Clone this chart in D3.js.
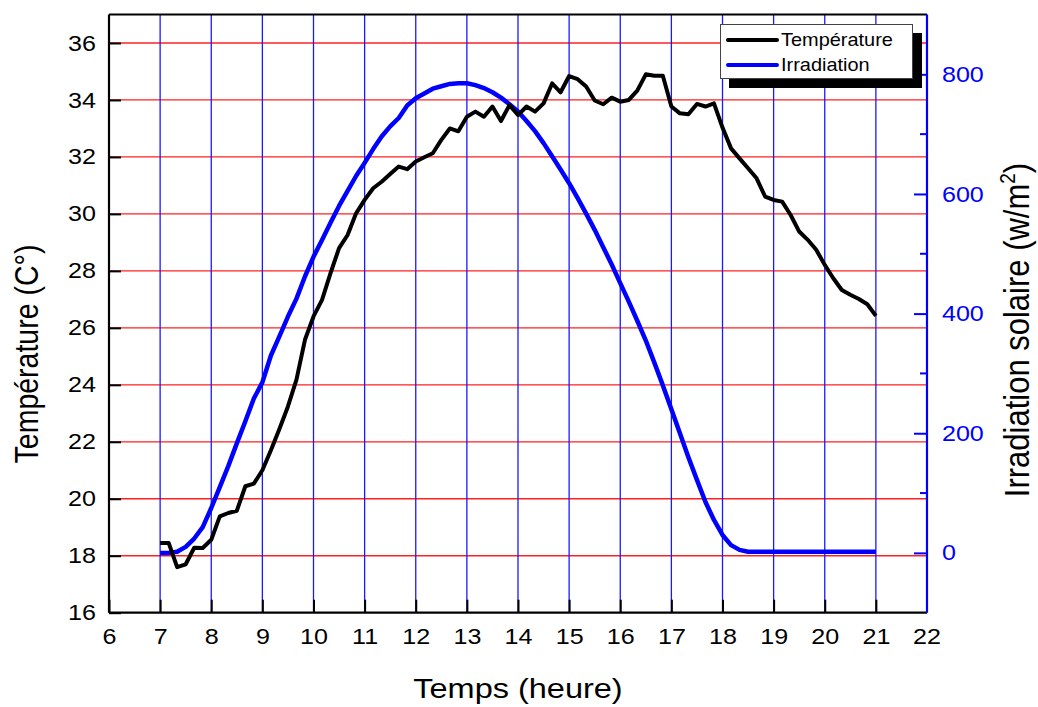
<!DOCTYPE html>
<html>
<head>
<meta charset="utf-8">
<script src="https://cdn.jsdelivr.net/npm/d3@7"></script>
<style>
  html, body { margin: 0; padding: 0; background: #fff; }
  svg { display: block; font-family: "Liberation Sans", Arial, sans-serif; }
</style>
</head>
<body>
<svg id="chart" width="1038" height="707"></svg>
<script>
// Measurement times (hours, 10-minute steps from 7:00 to 21:00)
const hours = [
  7.000, 7.167, 7.333, 7.500, 7.667, 7.833, 8.000, 8.167, 8.333, 8.500, 8.667, 8.833,
  9.000, 9.167, 9.333, 9.500, 9.667, 9.833, 10.000, 10.167, 10.333, 10.500, 10.667, 10.833,
  11.000, 11.167, 11.333, 11.500, 11.667, 11.833, 12.000, 12.167, 12.333, 12.500, 12.667, 12.833,
  13.000, 13.167, 13.333, 13.500, 13.667, 13.833, 14.000, 14.167, 14.333, 14.500, 14.667, 14.833,
  15.000, 15.167, 15.333, 15.500, 15.667, 15.833, 16.000, 16.167, 16.333, 16.500, 16.667, 16.833,
  17.000, 17.167, 17.333, 17.500, 17.667, 17.833, 18.000, 18.167, 18.333, 18.500, 18.667, 18.833,
  19.000, 19.167, 19.333, 19.500, 19.667, 19.833, 20.000, 20.167, 20.333, 20.500, 20.667, 20.833,
  21.000
];

// Air temperature (°C)
const temperature = [
  18.45, 18.45, 17.60, 17.70, 18.28, 18.27, 18.56, 19.38, 19.50, 19.58, 20.44, 20.53,
  21.00, 21.70, 22.45, 23.24, 24.18, 25.58, 26.40, 26.98, 27.92, 28.80, 29.26, 30.02,
  30.49, 30.90, 31.13, 31.40, 31.66, 31.57, 31.84, 31.99, 32.13, 32.60, 33.00, 32.90,
  33.41, 33.59, 33.41, 33.77, 33.26, 33.82, 33.47, 33.77, 33.59, 33.88, 34.58, 34.27,
  34.84, 34.73, 34.47, 33.98, 33.85, 34.08, 33.94, 34.00, 34.33, 34.90, 34.85, 34.85,
  33.77, 33.53, 33.50, 33.86, 33.77, 33.88, 33.03, 32.30, 31.95, 31.60, 31.25, 30.61,
  30.49, 30.43, 29.96, 29.38, 29.09, 28.74, 28.21, 27.74, 27.33, 27.16, 27.01, 26.83,
  26.42
];

// Solar irradiation (W/m²)
const irradiation = [
  0, 0, 2, 10, 24, 43, 75, 110, 145, 183, 220, 258,
  285, 330, 362, 395, 425, 462, 495, 523, 552, 580, 605, 630,
  652, 675, 696, 713, 727, 748, 760, 768, 776, 780, 784, 785,
  785, 782, 777, 770, 761, 750, 738, 722, 705, 685, 663, 641,
  618, 593, 567, 540, 511, 482, 451, 420, 388, 355, 318, 280,
  240, 200, 160, 122, 85, 55, 30, 13, 5, 2, 2, 2,
  2, 2, 2, 2, 2, 2, 2, 2, 2, 2, 2, 2,
  2
];

const hourTicks = [6, 7, 8, 9, 10, 11, 12, 13, 14, 15, 16, 17, 18, 19, 20, 21, 22];
const tempTicks = [16, 18, 20, 22, 24, 26, 28, 30, 32, 34, 36];
const irrTicks = [0, 200, 400, 600, 800];
const irrMinorTicks = [100, 300, 500, 700];

const seriesNames = ["Température", "Irradiation"];

const svg = d3.select("#chart");
const plotLeft = 109, plotRight = 927, plotTop = 14.5, plotBottom = 612.7;
const wide = 1.14;          // horizontal stretch of the lettering
const fontSize = 22;

const x = d3.scaleLinear().domain([6, 22]).range([plotLeft, plotRight]);
const yT = d3.scaleLinear().domain([16, 37]).range([plotBottom, plotTop]);
const yI = d3.scaleLinear().domain([-100, 900]).range([plotBottom, plotTop]);

// Grid: red horizontal lines at each temperature tick, blue vertical at each hour
const grid = svg.append("g");
grid.selectAll("line.h").data(tempTicks.filter(v => v > 16)).join("line")
  .attr("class", "h")
  .attr("x1", plotLeft).attr("x2", plotRight)
  .attr("y1", d => yT(d)).attr("y2", d => yT(d))
  .attr("stroke", "#ff2020").attr("stroke-width", 1.3);
grid.selectAll("line.v").data(hourTicks.filter(v => v > 6 && v < 22)).join("line")
  .attr("class", "v")
  .attr("y1", plotTop).attr("y2", plotBottom)
  .attr("x1", d => x(d)).attr("x2", d => x(d))
  .attr("stroke", "#1a1aff").attr("stroke-width", 1.3);

// Data lines
const lineT = d3.line().x((d, i) => x(hours[i])).y(d => yT(d));
const lineI = d3.line().x((d, i) => x(hours[i])).y(d => yI(d));

svg.append("path").datum(irradiation)
  .attr("d", lineI).attr("fill", "none")
  .attr("stroke", "#0000ff").attr("stroke-width", 4.5)
  .attr("stroke-linejoin", "round");
svg.append("path").datum(temperature)
  .attr("d", lineT).attr("fill", "none")
  .attr("stroke", "#000").attr("stroke-width", 4)
  .attr("stroke-linejoin", "round");

// Axes
const axisLeftG = svg.append("g").attr("transform", `translate(${plotLeft},0)`)
  .call(d3.axisRight(yT).tickValues(tempTicks).tickSize(12).tickFormat(d3.format("d")));
axisLeftG.select(".domain").remove();
axisLeftG.selectAll(".tick line").attr("stroke", "#000").attr("stroke-width", 2);
axisLeftG.selectAll(".tick text").attr("x", -13 / wide).attr("text-anchor", "end")
  .attr("transform", `scale(${wide},1)`)
  .attr("font-size", fontSize).attr("fill", "#000").attr("font-family", "Liberation Sans, Arial, sans-serif");

const axisBottomG = svg.append("g").attr("transform", `translate(0,${plotBottom})`)
  .call(d3.axisTop(x).tickValues(hourTicks.filter(v => v < 22)).tickSize(13).tickFormat(d3.format("d")));
axisBottomG.select(".domain").remove();
axisBottomG.selectAll(".tick line").attr("stroke", "#000").attr("stroke-width", 2);
axisBottomG.selectAll(".tick text").attr("y", 16).attr("dy", "0.71em")
  .attr("transform", `scale(${wide},1)`)
  .attr("font-size", fontSize).attr("fill", "#000").attr("font-family", "Liberation Sans, Arial, sans-serif");

// 22 label under the right (blue) axis
svg.append("text").attr("transform", `translate(${x(22)},${plotBottom + 16}) scale(${wide},1)`)
  .attr("dy", "0.71em")
  .attr("text-anchor", "middle").attr("font-size", fontSize).text("22");

const axisRightG = svg.append("g").attr("transform", `translate(${plotRight},0)`)
  .call(d3.axisLeft(yI).tickValues(irrTicks).tickSize(13).tickFormat(d3.format("d")));
axisRightG.select(".domain").remove();
axisRightG.selectAll(".tick line").attr("stroke", "#0000ff").attr("stroke-width", 2);
axisRightG.selectAll(".tick text").attr("x", 15 / wide).attr("text-anchor", "start")
  .attr("transform", `scale(${wide},1)`)
  .attr("font-size", fontSize).attr("fill", "#0000ff").attr("font-family", "Liberation Sans, Arial, sans-serif");
svg.append("g").selectAll("line").data(irrMinorTicks).join("line")
  .attr("x1", plotRight - 7).attr("x2", plotRight)
  .attr("y1", d => yI(d)).attr("y2", d => yI(d))
  .attr("stroke", "#0000ff").attr("stroke-width", 2);

// Frame
svg.append("line").attr("x1", plotLeft).attr("x2", plotLeft).attr("y1", plotTop).attr("y2", plotBottom)
  .attr("stroke", "#000").attr("stroke-width", 2.2);
svg.append("line").attr("x1", plotLeft).attr("x2", plotRight).attr("y1", plotBottom).attr("y2", plotBottom)
  .attr("stroke", "#000").attr("stroke-width", 2.2);
svg.append("line").attr("x1", plotLeft).attr("x2", plotRight).attr("y1", plotTop).attr("y2", plotTop)
  .attr("stroke", "#000").attr("stroke-width", 2.2);
svg.append("line").attr("x1", plotRight).attr("x2", plotRight).attr("y1", plotTop).attr("y2", plotBottom)
  .attr("stroke", "#0000ff").attr("stroke-width", 2.2);

// Axis titles
svg.append("text").attr("transform", `translate(518,698) scale(${wide},1)`).attr("text-anchor", "middle")
  .attr("font-size", 28.5).text("Temps (heure)");
svg.append("text").attr("transform", `translate(38,354) scale(${wide},1) rotate(-90)`)
  .attr("text-anchor", "middle").attr("font-size", 28.5).text("Température (C°)");
const rt = svg.append("text").attr("transform", `translate(1029,330) scale(${wide},1) rotate(-90)`)
  .attr("text-anchor", "middle").attr("font-size", 31);
rt.append("tspan").text("Irradiation solaire (w/m");
rt.append("tspan").attr("font-size", 19).attr("dy", -12).text("2");
rt.append("tspan").attr("dy", 12).text(")");

// Legend with drop shadow
const lg = svg.append("g");
lg.append("rect").attr("x", 729).attr("y", 33).attr("width", 193).attr("height", 55).attr("fill", "#000");
lg.append("rect").attr("x", 720.5).attr("y", 24.5).attr("width", 192).attr("height", 54)
  .attr("fill", "#fff").attr("stroke", "#444").attr("stroke-width", 1);
const legColors = ["#000", "#0000ff"];
seriesNames.forEach((name, i) => {
  const yy = 40 + i * 25;
  lg.append("line").attr("x1", 728).attr("x2", 777).attr("y1", yy).attr("y2", yy)
    .attr("stroke", legColors[i]).attr("stroke-width", 4).attr("stroke-linecap", "round");
  lg.append("text").attr("transform", `translate(781,${yy}) scale(${wide},1)`).attr("dy", "0.35em")
    .attr("font-size", 17.5).text(name);
});
</script>
</body>
</html>
